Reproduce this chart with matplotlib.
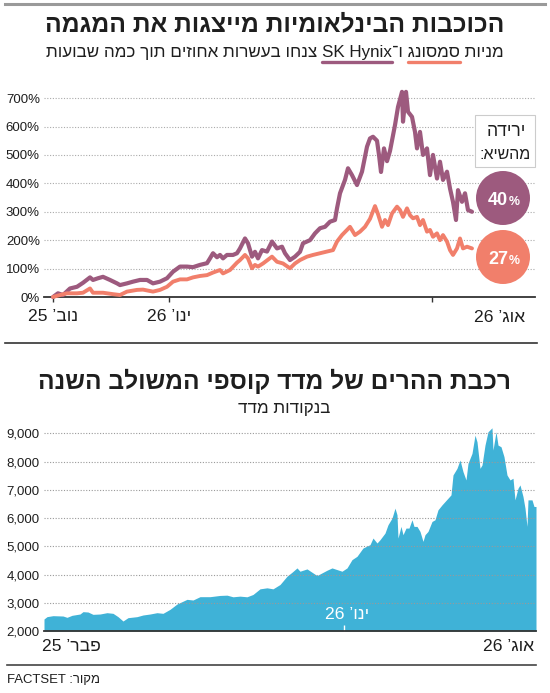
import re
import matplotlib
matplotlib.use("Agg")
import matplotlib.pyplot as plt
from matplotlib.patches import Ellipse, Rectangle
from matplotlib.lines import Line2D

plt.rcParams['font.family'] = ['Liberation Sans', 'DejaVu Sans']

# ---- top chart: cumulative change in % (day index from start) ----
hynix_day = [0, 5, 10, 17, 24, 30, 37, 40, 45, 50, 57, 64, 67, 74, 80, 87, 94, 100, 107, 114,
             120, 127, 134, 140, 147, 154, 157, 160, 164, 167, 170, 174, 180, 184, 187, 192, 195,
             199, 202, 205, 209, 214, 219, 224, 229, 232, 237, 242, 247, 250, 257, 262, 267, 272,
             277, 282, 284, 287, 292, 295, 299, 304, 309, 314, 317, 320, 324, 326, 328, 331, 334,
             337, 342, 345, 349, 350, 353, 355, 359, 362, 364, 367, 370, 374, 377, 380, 384, 387,
             390, 394, 397, 400, 403, 405, 409, 412, 415, 419]
hynix_pct = [0, 13, 7, 30, 36, 50, 69, 60, 66, 71, 60, 48, 42, 48, 54, 60, 60, 48, 54, 66,
             89, 107, 107, 105, 113, 119, 136, 154, 140, 148, 136, 148, 148, 154, 171, 206, 189,
             142, 159, 136, 165, 160, 195, 171, 177, 154, 130, 142, 159, 189, 200, 224, 242, 247,
             265, 271, 312, 365, 412, 453, 429, 394, 441, 529, 558, 564, 550, 500, 440, 523, 478,
             514, 605, 669, 722, 617, 722, 652, 634, 581, 523, 581, 500, 523, 429, 500, 417, 476,
             412, 441, 382, 335, 271, 376, 335, 365, 306, 300]

samsung_day = [0, 7, 14, 24, 30, 37, 40, 50, 60, 67, 74, 84, 90, 100, 107, 114, 120, 127, 134,
               140, 147, 154, 160, 167, 170, 177, 184, 187, 192, 195, 199, 202, 205, 210, 219,
               224, 230, 237, 242, 247, 254, 260, 267, 274, 280, 284, 289, 294, 297, 302, 307,
               312, 317, 322, 325, 329, 332, 335, 339, 344, 347, 350, 354, 357, 360, 364, 367,
               370, 374, 377, 380, 384, 387, 390, 394, 397, 400, 404, 407, 410, 414, 419]
samsung_pct = [0, 7, 13, 13, 15, 30, 15, 15, 10, 7, 19, 25, 26, 19, 25, 36, 54, 62, 62,
               69, 74, 77, 86, 95, 83, 95, 121, 130, 148, 136, 101, 113, 107, 118, 142,
               124, 118, 101, 118, 130, 142, 148, 154, 160, 165, 195, 218, 236, 247, 218, 230,
               247, 275, 320, 292, 247, 271, 253, 294, 318, 306, 282, 312, 288, 277, 282, 253,
               271, 230, 236, 212, 224, 200, 218, 195, 165, 148, 171, 206, 171, 177, 171]

top_ticks = [0, 116, 379]
top_tick_labels = ["נוב’ 25", "ינו’ 26", "אוג’ 26"]
drop_from_peak = [40, 27]

# ---- bottom chart: KOSPI points (day index from start) ----
kospi_day = [0, 3, 9, 19, 23, 28, 36, 39, 44, 49, 56, 63, 69, 74, 79, 84, 93, 99, 106, 113,
             119, 126, 133, 143, 149, 156, 166, 176, 183, 189, 196, 203, 209, 216, 223, 229,
             236, 243, 248, 253, 256, 263, 268, 273, 278, 283, 288, 293, 298, 303, 308, 313,
             319, 326, 329, 333, 336, 341, 344, 348, 351, 353, 354, 357, 359, 362, 365, 368,
             370, 373, 376, 379, 381, 384, 388, 391, 394, 398, 401, 404, 407, 409, 413, 416,
             419, 422, 424, 428, 431, 433, 436, 438, 441, 444, 448, 449, 452, 454, 457, 460,
             463, 466, 469, 471, 474, 476, 479, 481, 483, 484, 488, 490, 492]
kospi_val = [2425, 2508, 2543, 2531, 2484, 2555, 2602, 2685, 2673, 2590, 2602, 2649, 2626,
             2508, 2354, 2472, 2508, 2567, 2602, 2649, 2626, 2767, 2956, 3122, 3098, 3216,
             3216, 3260, 3270, 3212, 3235, 3212, 3294, 3494, 3530, 3494, 3647, 3941, 4082,
             4235, 4118, 4200, 4082, 3965, 4059, 4153, 4235, 4176, 4118, 4235, 4529, 4647,
             4941, 5059, 5294, 5118, 5235, 5470, 5765, 6000, 6353, 6118, 5294, 5706, 5412,
             5647, 5647, 5941, 5706, 5706, 5529, 5176, 5412, 5529, 5882, 5941, 6294, 6470,
             6588, 6706, 6824, 7529, 7765, 8059, 7647, 7353, 7941, 8294, 8941, 8706, 7765,
             7882, 8588, 9059, 9200, 8412, 9059, 8588, 8529, 8176, 7529, 7353, 7412, 6647,
             7059, 7176, 6765, 6353, 5706, 6647, 6647, 6412, 6412]

kospi_ticks = [300]
kospi_tick_labels = ["פבר’ 25", "ינו’ 26", "אוג’ 26"]

PURPLE = "#9d5a7e"
SALMON = "#f17f6b"
BLUE = "#3fb2d7"
INK = "#1e1e1e"

W, H = 550, 693


def rtl(s):
    # matplotlib has no bidi: reverse Hebrew, keep latin/digit runs readable
    r = s[::-1]
    return re.sub(r"[A-Za-z0-9][A-Za-z0-9 ,.%]*[A-Za-z0-9%]|[A-Za-z0-9]",
                  lambda m: m.group(0)[::-1], r)


def fx(px):
    return px / W


def fy(py):
    return 1 - py / H


fig = plt.figure(figsize=(W / 100, H / 100), dpi=100)
renderer = fig.canvas.get_renderer()


def width_of(s, size, **kw):
    tt = fig.text(0, 0, s, fontsize=size, **kw)
    w = tt.get_window_extent(renderer).width
    tt.remove()
    return w


def size_for(s, width, **kw):
    return 12 * width / width_of(s, 12, **kw)


def fit(t, width):
    w = t.get_window_extent(renderer).width
    t.set_fontsize(t.get_fontsize() * width / w)


def hline(y, x0, x1, color, lw):
    fig.add_artist(Line2D([fx(x0), fx(x1)], [fy(y), fy(y)], color=color, lw=lw,
                          transform=fig.transFigure))


tick_fs = size_for("700%", 34)
date_fs = size_for(rtl("ינו’ 26"), 44)

# frame lines
hline(4, 5, 545, "#9a9a9a", 2.2)
hline(343, 5, 537, "#333333", 1.2)
hline(665, 7, 536, "#444444", 1.2)

# ---- titles ----
t1 = fig.text(fx(275), fy(31), rtl("הכוכבות הבינלאומיות מייצגות את המגמה"),
              ha="center", va="baseline", fontsize=16, weight="bold", color=INK)
fit(t1, 458)

p1 = rtl("צנחו בעשרות אחוזים תוך כמה שבועות")
p2 = "SK Hynix"
p3 = rtl("ו־")
p4 = rtl("סמסונג")
p5 = rtl("מניות")
sub = p1 + " " + p2 + p3 + " " + p4 + " " + p5
t2 = fig.text(fx(275), fy(57), sub, ha="center", va="baseline", fontsize=12, color=INK)
fit(t2, 454)

fs = t2.get_fontsize()
left = 275 - t2.get_window_extent(renderer).width / 2
e2 = left + width_of(p1 + " " + p2, fs)
s2 = e2 - width_of(p2, fs)
e4 = left + width_of(p1 + " " + p2 + p3 + " " + p4, fs)
s4 = e4 - width_of(p4, fs)
for a, b, c in [(s2, e2, PURPLE), (s4, e4, SALMON)]:
    fig.add_artist(Line2D([fx(a), fx(b)], [fy(62), fy(62)], color=c, lw=2.4,
                          solid_capstyle="round", transform=fig.transFigure))

t3 = fig.text(fx(275), fy(389), rtl("רכבת ההרים של מדד קוספי המשולב השנה"),
              ha="center", va="baseline", fontsize=16, weight="bold", color=INK)
fit(t3, 472)
fig.text(fx(284), fy(413), rtl("בנקודות מדד"), ha="center", va="baseline",
         fontsize=fs, color=INK)

# ---- top chart ----
ax1 = fig.add_axes([fx(44), fy(297), fx(535) - fx(44), fy(91) - fy(297)])
ax1.plot(hynix_day, hynix_pct, color=PURPLE, lw=3.0, solid_joinstyle="round",
         solid_capstyle="round", clip_on=False, zorder=3)
ax1.plot(samsung_day, samsung_pct, color=SALMON, lw=2.8, solid_joinstyle="round",
         solid_capstyle="round", clip_on=False, zorder=4)
ax1.set_xlim(-9, 482)
ax1.set_ylim(0, 725)
ax1.set_yticks(range(0, 800, 100))
ax1.set_yticklabels([f"{v}%" for v in range(0, 800, 100)])
ax1.set_xticks(top_ticks)
ax1.set_xticklabels([rtl(s) for s in top_tick_labels[:2]] + [""])
ax1.grid(axis="y", color="#aaaaaa", lw=0.8, linestyle=(0, (1, 1.5)))
for s in ["left", "right", "top"]:
    ax1.spines[s].set_visible(False)
ax1.spines["bottom"].set_color("#333333")
ax1.spines["bottom"].set_linewidth(1.3)
ax1.tick_params(axis="y", length=0, pad=3, labelsize=tick_fs, labelcolor=INK)
ax1.tick_params(axis="x", length=3.5, width=1, color="#333333", pad=5, labelsize=date_fs,
                labelcolor=INK)
fig.text(fx(525), fy(322), rtl(top_tick_labels[2]), ha="right", va="baseline",
         fontsize=date_fs, color=INK)

# drop-from-peak box and circles
fig.add_artist(Rectangle((fx(475), fy(167)), 60 / W, 52 / H, transform=fig.transFigure,
                         facecolor="white", edgecolor="#cccccc", lw=0.8, zorder=5))
b1 = fig.text(fx(506), fy(136), rtl("ירידה"), ha="center", va="baseline", fontsize=13,
              color=INK, zorder=6)
fit(b1, 39)
b2 = fig.text(fx(505), fy(159), rtl("מהשיא:"), ha="center", va="baseline", fontsize=13,
              color=INK, zorder=6)
fit(b2, 51)
for (cy, col), val in zip([(198, PURPLE), (257, SALMON)], drop_from_peak):
    fig.add_artist(Ellipse((fx(503), fy(cy)), 54 / W, 54 / H, transform=fig.transFigure,
                           facecolor=col, edgecolor="none", zorder=5))
    n = fig.text(fx(508), fy(cy + 7), str(val), ha="right", va="baseline", fontsize=14,
                 weight="bold", color="white", zorder=6)
    fit(n, 20)
    pc = fig.text(fx(509), fy(cy + 7), "%", ha="left", va="baseline", fontsize=9,
                  weight="bold", color="white", zorder=6)
    fit(pc, 11)

# ---- bottom chart ----
ax2 = fig.add_axes([fx(44), fy(631), fx(536) - fx(44), fy(425) - fy(631)])
ax2.fill_between(kospi_day, kospi_val, 2000, color=BLUE, lw=0)
ax2.set_xlim(0, 492)
ax2.set_ylim(2000, 9300)
ax2.set_yticks(range(2000, 10000, 1000))
ax2.set_yticklabels([f"{v:,}" for v in range(2000, 10000, 1000)])
ax2.set_xticks(kospi_ticks)
ax2.set_xticklabels([])
ax2.grid(axis="y", color="#9a9a9a", lw=0.8, linestyle=(0, (1, 1.5)))
for s in ["left", "right", "top"]:
    ax2.spines[s].set_visible(False)
ax2.spines["bottom"].set_color("#333333")
ax2.spines["bottom"].set_linewidth(1.3)
ax2.tick_params(axis="y", length=0, pad=3, labelsize=tick_fs, labelcolor=INK)
ax2.tick_params(axis="x", direction="in", length=4.5, width=1, color="white")
fig.text(fx(42), fy(651), rtl(kospi_tick_labels[0]), ha="left", va="baseline",
         fontsize=date_fs, color=INK)
fig.text(fx(347), fy(619), rtl(kospi_tick_labels[1]), ha="center", va="baseline",
         fontsize=date_fs, color="white")
fig.text(fx(534), fy(651), rtl(kospi_tick_labels[2]), ha="right", va="baseline",
         fontsize=date_fs, color=INK)

# source
src = fig.text(fx(7), fy(683), rtl("מקור: FACTSET"), ha="left", va="baseline", fontsize=11,
               color=INK)
fit(src, 93)

fig.savefig("out.png", dpi=100)
